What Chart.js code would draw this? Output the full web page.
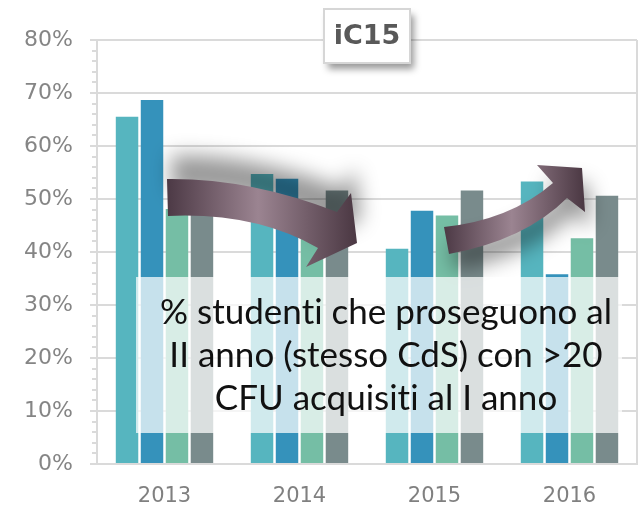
<!DOCTYPE html>
<html>
<head>
<meta charset="utf-8">
<script src="https://cdn.jsdelivr.net/npm/chart.js@4.4.0/dist/chart.umd.min.js"></script>
<style>
  html, body { margin: 0; padding: 0; background: #fff; }
  #wrap { width: 641px; height: 508px; position: relative; }
</style>
</head>
<body>
<div id="wrap"><canvas id="chart"></canvas></div>
<script>
// data (percent)
const years = ['2013', '2014', '2015', '2016'];
const serie1 = [65.5, 54.7, 40.6, 53.3];
const serie2 = [68.7, 53.8, 47.8, 35.8];
const serie3 = [48.1, 46.0, 46.9, 42.6];
const serie4 = [50.0, 51.6, 51.6, 50.6];
const yTicks = [0, 10, 20, 30, 40, 50, 60, 70, 80];
const titleText = 'iC15';
const noteLines = ['% studenti che proseguono al', 'II anno (stesso CdS) con >20', 'CFU acquisiti al I anno'];

const colors = ['#56b5bf', '#3592bb', '#75bea5', '#798b8c'];
const gridCol = '#dadada';

// drawing of arrows, note box, title box, minor ticks
const decor = {
  id: 'decor',
  beforeDatasetsDraw(chart) {
    const { ctx, chartArea: a, scales: { y } } = chart;
    ctx.save();
    ctx.strokeStyle = gridCol;
    ctx.lineWidth = 2;
    for (let v = 0; v <= yTicks[yTicks.length - 1]; v += 2) {
      if (v % 10 === 0) continue;
      const py = Math.round(y.getPixelForValue(v));
      ctx.beginPath();
      ctx.moveTo(a.left - 5, py);
      ctx.lineTo(a.left, py);
      ctx.stroke();
    }
    ctx.beginPath();
    ctx.moveTo(a.right, a.top);
    ctx.lineTo(a.right, a.bottom);
    ctx.stroke();
    ctx.restore();
  },
  afterDatasetsDraw(chart) {
    const { ctx, chartArea: a } = chart;
    const P = (x, y) => [a.left + (x - 97) / 540 * a.width, a.top + (y - 40) / 424 * a.height];

    const arrow = (pts, x0, x1, sx, sy) => {
      ctx.save();
      const g = ctx.createLinearGradient(P(x0, 0)[0], 0, P(x1, 0)[0], 0);
      g.addColorStop(0, '#4c3945');
      g.addColorStop(0.48, '#9b8491');
      g.addColorStop(1, '#4a3742');
      ctx.fillStyle = g;
      ctx.shadowColor = 'rgba(0,0,0,0.4)';
      ctx.shadowBlur = 20;
      ctx.shadowOffsetX = sx;
      ctx.shadowOffsetY = sy;
      ctx.beginPath();
      pts(ctx);
      ctx.closePath();
      ctx.fill();
      ctx.restore();
    };

    // arrow going down (2013 -> 2014)
    arrow(c => {
      c.moveTo(...P(167, 179));
      c.quadraticCurveTo(...P(250, 178), ...P(337, 212));
      c.lineTo(...P(351, 193));
      c.lineTo(...P(357, 243));
      c.lineTo(...P(306, 267));
      c.lineTo(...P(318, 248));
      c.quadraticCurveTo(...P(255, 212), ...P(168, 216));
    }, 167, 357, 4, -24);

    // arrow going up (2015 -> 2016)
    arrow(c => {
      c.moveTo(...P(444, 227));
      c.quadraticCurveTo(...P(510, 220), ...P(553, 183));
      c.lineTo(...P(537, 165));
      c.lineTo(...P(582, 168));
      c.lineTo(...P(585, 212));
      c.lineTo(...P(567, 198));
      c.quadraticCurveTo(...P(525, 240), ...P(449, 254));
    }, 444, 585, 6, 16);

    // translucent note box
    const [bx0, by0] = P(136, 277);
    const [bx1, by1] = P(622, 433);
    ctx.save();
    ctx.fillStyle = 'rgba(255,255,255,0.72)';
    ctx.fillRect(bx0, by0, bx1 - bx0, by1 - by0);

    ctx.fillStyle = '#111';
    ctx.font = '34px Lato';
    ctx.textAlign = 'center';
    ctx.textBaseline = 'alphabetic';
    // break the "ti" ligature of Lato
    const lines = noteLines.map(l => l.replace(/ti/g, 't\u200Ci'));
    const maxW = Math.max(...lines.map(l => ctx.measureText(l).width));
    const s = 452 / maxW;
    const baselines = [324, 367, 410];
    lines.forEach((l, i) => {
      const [cx, cy] = P(386, baselines[i]);
      ctx.save();
      ctx.translate(cx, cy);
      ctx.scale(s, 1);
      ctx.fillText(l, 0, 0);
      ctx.restore();
    });
    ctx.restore();

    // title box
    const [tx0, ty0] = P(324, 9);
    const [tx1, ty1] = P(410, 63);
    ctx.save();
    ctx.shadowColor = 'rgba(0,0,0,0.4)';
    ctx.shadowBlur = 7;
    ctx.shadowOffsetX = 4;
    ctx.shadowOffsetY = 6;
    ctx.fillStyle = '#fff';
    ctx.fillRect(tx0, ty0, tx1 - tx0, ty1 - ty0);
    ctx.restore();
    ctx.save();
    ctx.strokeStyle = '#d6d6d6';
    ctx.lineWidth = 2;
    ctx.strokeRect(tx0, ty0, tx1 - tx0, ty1 - ty0);
    ctx.fillStyle = '#595959';
    ctx.font = 'bold 27px "DejaVu Sans"';
    ctx.textAlign = 'center';
    ctx.textBaseline = 'middle';
    ctx.fillText(titleText, (tx0 + tx1) / 2, (ty0 + ty1) / 2 + 1);
    ctx.restore();
  }
};

const series = [serie1, serie2, serie3, serie4];

new Chart(document.getElementById('chart'), {
  type: 'bar',
  data: {
    labels: years,
    datasets: series.map((d, i) => ({
      label: 'Serie ' + (i + 1),
      data: d,
      backgroundColor: colors[i],
      borderWidth: 0,
      categoryPercentage: 0.74,
      barPercentage: 0.9
    }))
  },
  options: {
    responsive: true,
    maintainAspectRatio: false,
    animation: false,
    layout: { padding: { top: 40, right: 4, left: 0, bottom: 0 } },
    plugins: {
      legend: { display: false },
      tooltip: { enabled: false }
    },
    scales: {
      x: {
        grid: { display: true, drawOnChartArea: false, drawTicks: false },
        border: { color: gridCol, width: 2 },
        ticks: {
          color: '#808080',
          font: { family: 'DejaVu Sans', size: 21 },
          padding: 20
        },
        afterFit: s => { s.height = 44; }
      },
      y: {
        min: 0,
        max: 80,
        afterBuildTicks: s => { s.ticks = yTicks.map(v => ({ value: v })); },
        grid: { color: gridCol, lineWidth: 2, tickLength: 7 },
        border: { color: gridCol, width: 2 },
        ticks: {
          color: '#858585',
          font: { family: 'DejaVu Sans', size: 22 },
          padding: 17,
          callback: v => v + '%'
        },
        afterFit: s => { s.width = 97; }
      }
    }
  },
  plugins: [decor]
});
</script>
</body>
</html>
